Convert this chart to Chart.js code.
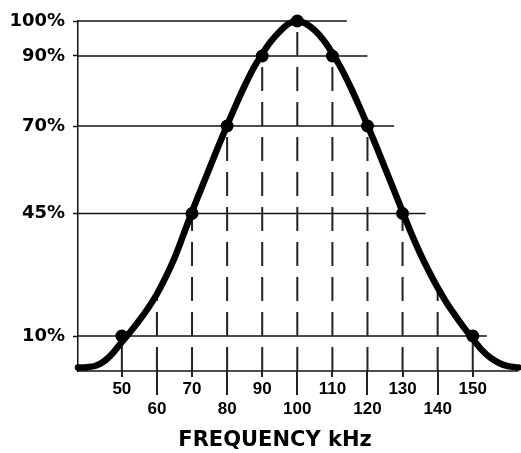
<!DOCTYPE html>
<html>
<head>
<meta charset="utf-8">
<script src="https://cdn.jsdelivr.net/npm/chart.js@4"></script>
<style>
  html, body { margin: 0; padding: 0; background: #fff; }
  #wrap { width: 521px; height: 453px; }
</style>
</head>
<body>
<div id="wrap"><canvas id="responseChart"></canvas></div>
<script>
// ticks
const freqTicks = [50, 60, 70, 80, 90, 100, 110, 120, 130, 140, 150];
const levelTicks = [10, 45, 70, 90, 100];

// response curve
const curveFreq  = [37.5, 40, 42.5, 45, 47.5, 50, 52.5, 55, 57.5, 60, 62.5, 65, 67.5, 70, 72.5, 75, 77.5, 80,
                    82.5, 85, 87.5, 90, 92.5, 95, 97.5, 100, 102.5, 105, 107.5, 110, 112.5, 115, 117.5, 120,
                    122.5, 125, 127.5, 130, 132.5, 135, 137.5, 140, 142.5, 145, 147.5, 150, 152.5, 155, 157.5, 160, 163];
const curveLevel = [1.0, 1.1, 1.5, 2.8, 5.2, 8.3, 11.3, 14.5, 18.0, 22.0, 26.8, 32.3, 38.8, 45.5, 51.8, 58.0, 64.2, 70.2,
                    76.0, 81.5, 86.5, 90.6, 94.2, 97.0, 99.2, 100, 99.2, 97.3, 94.5, 90.8, 86.5, 81.5, 76.0, 70.2,
                    64.2, 58.0, 51.8, 45.5, 39.3, 33.6, 28.5, 23.8, 19.6, 15.9, 12.4, 9.2, 6.1, 3.8, 2.3, 1.4, 1.0];

// marked points
const markerFreq  = [50, 70, 80, 90, 100, 110, 120, 130, 150];
const markerLevel = [10, 45, 70, 90, 100, 90, 70, 45, 10];

// height of the drop line at each frequency tick
const dropLevel = [10, 21.5, 45, 70, 90, 100, 90, 70, 45, 22.5, 10];

// where each level line stops (kHz)
const levelEnd = [154, 136.6, 127.6, 120, 114.1];

// frequency span of the drawing
const freqMin = 37.5, freqMax = 161.9, baseEnd = 163;

const INK = '#111';

const datasets = [];

// baseline
datasets.push({
  data: [{x: freqMin, y: 0}, {x: baseEnd, y: 0}],
  showLine: true, borderColor: INK, borderWidth: 1.5, pointRadius: 0, clip: false, order: 4
});

levelTicks.forEach(function (lv, i) {
  datasets.push({
    data: [{x: freqMin, y: lv}, {x: levelEnd[i], y: lv}],
    showLine: true, borderColor: INK, borderWidth: 1.5, pointRadius: 0, clip: false, order: 3
  });
});

freqTicks.forEach(function (f, i) {
  const h = dropLevel[i];
  datasets.push({
    data: [{x: f, y: 0}, {x: f, y: h}],
    showLine: true, borderColor: '#222', borderWidth: 2, pointRadius: 0, clip: false, order: 2,
    borderDash: h <= 12 ? [] : [24, 11]
  });
});

datasets.push({
  data: curveFreq.map((f, i) => ({x: f, y: curveLevel[i]})),
  showLine: true, borderColor: '#000', borderWidth: 6.5, pointRadius: 0,
  cubicInterpolationMode: 'monotone', clip: false, order: 1,
  borderCapStyle: 'round', borderJoinStyle: 'round'
});

datasets.push({
  data: markerFreq.map((f, i) => ({x: f, y: markerLevel[i]})),
  showLine: false, pointRadius: 6.5, pointBackgroundColor: '#000',
  pointBorderColor: '#000', pointBorderWidth: 0, clip: false, order: 0
});

const tickMarks = {
  id: 'tickMarks',
  afterDatasetsDraw(chart) {
    const ctx = chart.ctx, x = chart.scales.x, bottom = chart.chartArea.bottom;
    ctx.save();
    ctx.strokeStyle = '#222';
    ctx.lineWidth = 2;
    freqTicks.forEach(function (f, i) {
      const px = Math.round(x.getPixelForValue(f));
      ctx.beginPath();
      ctx.moveTo(px, bottom);
      ctx.lineTo(px, bottom + (i % 2 ? 24 : 6));
      ctx.stroke();
    });
    ctx.fillStyle = '#000';
    ctx.font = 'bold 21px "DejaVu Sans"';
    ctx.textAlign = 'center';
    ctx.textBaseline = 'middle';
    ctx.fillText('FREQUENCY kHz', 275, 441);
    ctx.restore();
  }
};

new Chart(document.getElementById('responseChart'), {
  type: 'scatter',
  data: {datasets: datasets},
  plugins: [tickMarks],
  options: {
    responsive: true,
    maintainAspectRatio: false,
    animation: false,
    layout: {padding: {left: 0, top: 21, right: 1, bottom: 0}},
    plugins: {legend: {display: false}, tooltip: {enabled: false}},
    scales: {
      x: {
        type: 'linear', min: freqMin, max: freqMax,
        afterBuildTicks: s => { s.ticks = freqTicks.map(v => ({value: v})); },
        afterFit: s => { s.height = 82; },
        grid: {display: false, drawTicks: false},
        border: {display: false},
        ticks: {
          padding: 8, color: '#000', maxRotation: 0, autoSkip: false,
          font: {family: '"Liberation Sans"', weight: 'bold', size: 17, lineHeight: 1.2},
          callback: (v) => {
            const i = freqTicks.indexOf(v);
            return i % 2 ? ['', String(v)] : [String(v), ''];
          }
        }
      },
      y: {
        type: 'linear', min: 0, max: 100,
        afterBuildTicks: s => { s.ticks = levelTicks.map(v => ({value: v})); },
        afterFit: s => { s.width = 78; },
        grid: {display: true, drawOnChartArea: false, drawTicks: true, tickLength: 5, tickColor: INK, tickWidth: 1.5},
        border: {display: true, color: INK, width: 1.5},
        ticks: {
          padding: 8, color: '#000', autoSkip: false,
          font: {family: '"DejaVu Sans"', weight: 'bold', size: 18},
          callback: v => v + '%'
        }
      }
    }
  }
});
</script>
</body>
</html>
